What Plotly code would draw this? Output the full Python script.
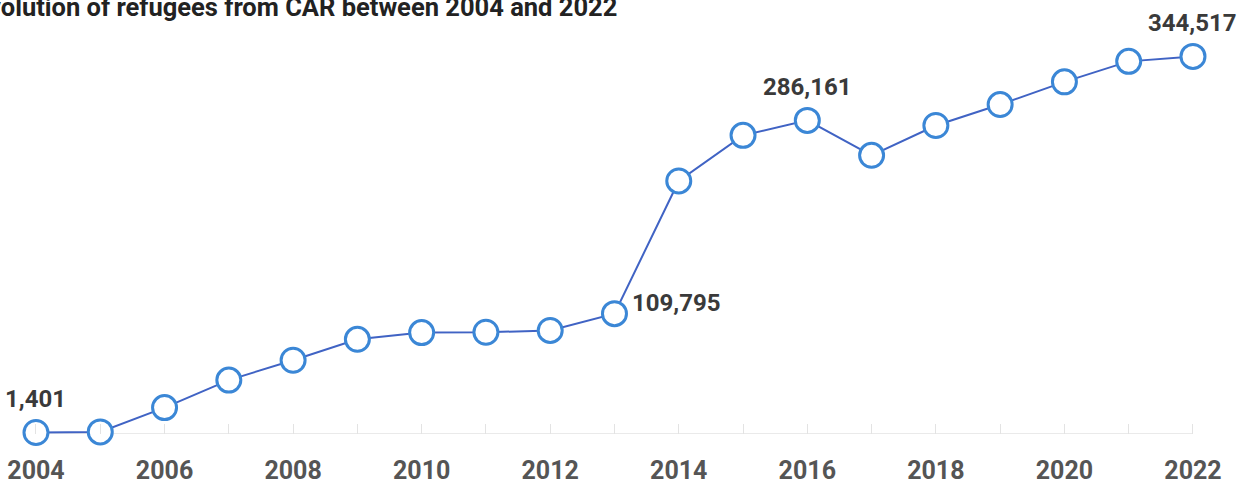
import plotly.graph_objects as go

# Refugees from the Central African Republic, yearly totals
years = list(range(2004, 2023))
refugees = [1401, 1900, 24100, 49200, 67300, 86400, 92500, 92800, 94500,
            109795, 230900, 272500, 286161, 254300, 281500, 300600, 321300,
            340000, 344517]

# Years whose value is written next to the point: (year, anchor, dx, dy)
labelled = [(2004, "center", 0, -33), (2013, "left", 16, -11),
            (2016, "center", 0, -33), (2022, "center", 0, -33)]

title_text = "Evolution of refugees from CAR between 2004 and 2022"

line_color = "#4063c4"
marker_color = "#3b87d6"
font = "Roboto"
W = 1246

fig = go.Figure()
fig.add_trace(go.Scatter(
    x=years, y=refugees, mode="lines+markers",
    line=dict(color=line_color, width=2),
    marker=dict(size=24, color="white", line=dict(color=marker_color, width=3)),
    cliponaxis=False, hoverinfo="x+y",
))

# Baseline from first to last year
fig.add_shape(type="line", xref="x", yref="y", x0=years[0], x1=years[-1], y0=0, y1=0,
              line=dict(color="#e3e3e3", width=1.5), layer="below")

for yr, anchor, dx, dy in labelled:
    v = refugees[years.index(yr)]
    fig.add_annotation(x=yr, y=v, text=f"<b>{v:,}</b>", showarrow=False,
                       xanchor=anchor, yanchor="middle", xshift=dx, yshift=-dy,
                       font=dict(family=font, size=24, color="#3a3a3a"))

fig.add_annotation(x=-28 / W, y=1, xref="paper", yref="paper",
                   text=f"<b>{title_text}</b>", showarrow=False,
                   xanchor="left", yanchor="middle", yshift=-7,
                   font=dict(family=font, size=25.5, color="#222222"))

fig.update_layout(
    width=W, height=485,
    margin=dict(l=0, r=0, t=0, b=47),
    paper_bgcolor="white", plot_bgcolor="white",
    showlegend=False,
    xaxis=dict(range=[2003.44, 2022.825], tickvals=years,
               ticktext=[f"<b>{y}</b>" if y % 2 == 0 else "" for y in years],
               ticks="inside", ticklen=10, tickwidth=1, tickcolor="#e3e3e3",
               showgrid=False, zeroline=False, showline=False,
               ticklabelstandoff=19,
               tickfont=dict(family=font, size=25, color="#555555")),
    yaxis=dict(range=[0, 396000], visible=False, showgrid=False, zeroline=False),
)

fig.write_html("out.html")
